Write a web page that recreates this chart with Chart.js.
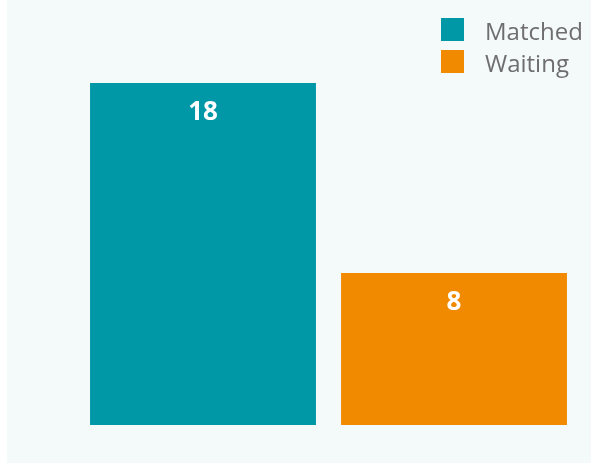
<!DOCTYPE html>
<html>
<head>
<meta charset="utf-8">
<script src="https://cdn.jsdelivr.net/npm/chart.js@4.4.1/dist/chart.umd.min.js"></script>
<style>
    html, body { margin: 0; padding: 0; background: #ffffff; }
    .panel {
        position: absolute;
        left: 7px;
        top: 0;
        width: 584px;
        height: 463px;
        background: #f4f9f9;
    }
</style>
</head>
<body>
<div class="panel">
    <canvas id="statusChart" width="584" height="463"></canvas>
</div>
<script>
// chart data
const categories = ['Matched', 'Waiting'];
const counts = [18, 8];
const barColors = ['#0097a7', '#f28a00'];

// white count printed near the top of each bar
const valueLabels = {
    id: 'valueLabels',
    afterDatasetsDraw(chart) {
        const ctx = chart.ctx;
        const meta = chart.getDatasetMeta(0);
        ctx.save();
        ctx.fillStyle = '#ffffff';
        ctx.font = 'bold 26px "Open Sans", sans-serif';
        ctx.textAlign = 'center';
        ctx.textBaseline = 'middle';
        meta.data.forEach((bar, i) => {
            ctx.fillText(String(counts[i]), bar.x, bar.y + 30);
        });
        ctx.restore();
    }
};

// stacked legend in the top-right corner
const cornerLegend = {
    id: 'cornerLegend',
    afterDraw(chart) {
        const ctx = chart.ctx;
        ctx.save();
        ctx.font = '24px "Open Sans", sans-serif';
        ctx.textBaseline = 'middle';
        ctx.textAlign = 'left';
        categories.forEach((name, i) => {
            const top = 18 + i * 32;
            ctx.fillStyle = barColors[i];
            ctx.fillRect(434, top, 23, 23);
            ctx.fillStyle = '#6e6e6e';
            ctx.fillText(name, 478, top + 15);
        });
        ctx.restore();
    }
};

const ctx = document.getElementById('statusChart').getContext('2d');
const statusChart = new Chart(ctx, {
    type: 'bar',
    data: {
        labels: categories,
        datasets: [{
            data: counts,
            backgroundColor: barColors,
            borderWidth: 0,
            categoryPercentage: 1,
            barPercentage: 0.9
        }]
    },
    options: {
        responsive: false,
        animation: false,
        layout: {
            padding: { top: 83, bottom: 38, left: 70.5, right: 11.5 }
        },
        scales: {
            x: { display: false },
            y: { display: false, min: 0, max: 18 }
        },
        plugins: {
            legend: { display: false },
            tooltip: { enabled: false }
        }
    },
    plugins: [valueLabels, cornerLegend]
});
</script>
</body>
</html>
